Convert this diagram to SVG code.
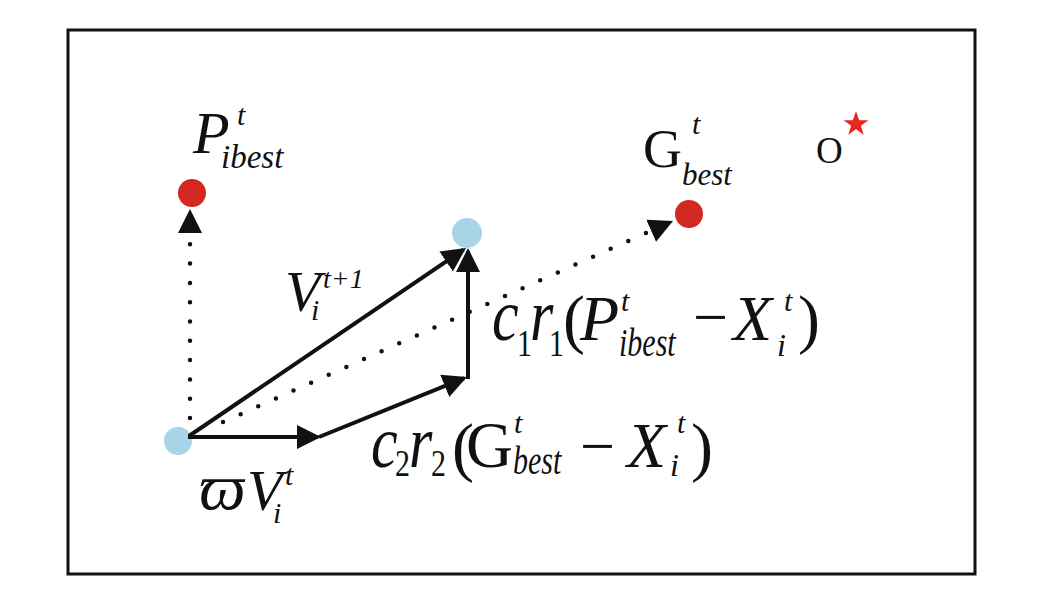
<svg xmlns="http://www.w3.org/2000/svg" width="1054" height="596" viewBox="0 0 1054 596">
<style>
text{font-family:"Liberation Serif","Times New Roman",serif;fill:#111}
.it{font-style:italic}
.up{font-style:normal}
.sol{stroke:#111;stroke-width:4;fill:none}
.dot{stroke:#111;stroke-width:4.5;fill:none;stroke-linecap:round;stroke-dasharray:0 19.3}
.red{fill:#d22a22}
.blue{fill:#a9d4e7}
</style>
<defs>
<marker id="ah" markerUnits="userSpaceOnUse" markerWidth="24" markerHeight="26" viewBox="0 0 24 26" refX="21" refY="13" orient="auto">
<path d="M0,1 L24,13 L0,25 z" fill="#111"/>
</marker>
</defs>
<rect x="68" y="30" width="907" height="544" fill="#fff" stroke="#111" stroke-width="3"/>

<g id="particle-now"><circle class="blue" cx="178" cy="441" r="14"/></g>
<g id="particle-next"><circle class="blue" cx="467" cy="233" r="15"/></g>
<g id="pbest"><circle class="red" cx="192" cy="193" r="14"/></g>
<g id="gbest"><circle class="red" cx="689" cy="214" r="14"/></g>
<g id="optimum">
<text x="816" y="163" font-size="37">O</text>
<polygon fill="#e8281e" points="856,111 859.1,120.2 868.4,120.2 860.9,125.8 863.7,134.8 856,129.3 848.3,134.8 851.1,125.8 843.6,120.2 852.9,120.2"/>
</g>

<g id="connectors">
<path class="dot" d="M190,418 L190,212" marker-end="url(#ah)"/>
<path class="dot" d="M223,422 L670.3,222.2" marker-end="url(#ah)"/>
<path class="sol" d="M188,437 L318,437" marker-end="url(#ah)"/>
<path class="sol" d="M319,437 L464.2,378.1" marker-end="url(#ah)"/>
<path class="sol" d="M468,379 L468,251" marker-end="url(#ah)"/>
<path class="sol" d="M189,436 L463.5,249.7" marker-end="url(#ah)"/>
</g>

<g id="label-pbest">
<text class="it"><tspan x="193" y="153" font-size="60">P</tspan><tspan x="237" y="125" font-size="30">t</tspan><tspan x="221" y="168" font-size="33">ibest</tspan></text>
</g>

<g id="label-gbest">
<text><tspan x="643" y="167" font-size="54">G</tspan><tspan class="it" x="692" y="134" font-size="30">t</tspan><tspan class="it" x="682" y="185" font-size="31">best</tspan></text>
</g>

<g id="label-v-next">
<text class="it"><tspan x="285" y="311" font-size="58">V</tspan><tspan x="323" y="288" font-size="28">t+1</tspan><tspan x="311" y="320" font-size="30">i</tspan></text>
</g>

<g id="label-inertia">
<text class="it"><tspan x="199" y="509" font-size="66">ϖ</tspan><tspan x="247" y="510" font-size="58">V</tspan><tspan x="285" y="485" font-size="30">t</tspan><tspan x="273" y="523" font-size="30">i</tspan></text>
</g>

<g id="label-cognitive">
<text class="it" font-size="60" transform="translate(492 340) scale(1 1.22)">c</text>
<text font-size="30" transform="translate(517 356) scale(1 1.25)">1</text>
<text class="it" font-size="60" transform="translate(530 340) scale(1 1.22)">r</text>
<text font-size="30" transform="translate(549 356) scale(1 1.25)">1</text>
<text font-size="66"><tspan x="563" y="341">(</tspan><tspan class="it" x="580" y="340" font-size="64">P</tspan><tspan class="it" x="621" y="311" font-size="30">t</tspan></text>
<text class="it" font-size="30" transform="translate(619 356) scale(1 1.3)">ibest</text>
<text font-size="64"><tspan x="693" y="338" font-size="62">−</tspan><tspan class="it" x="733" y="340">X</tspan><tspan class="it" x="784" y="311" font-size="30">t</tspan><tspan class="it" x="777" y="356" font-size="32">i</tspan><tspan x="798" y="341" font-size="66">)</tspan></text>
</g>

<g id="label-social">
<text class="it" font-size="60" transform="translate(371 467) scale(1 1.22)">c</text>
<text font-size="30" transform="translate(395 476) scale(1 1.25)">2</text>
<text class="it" font-size="60" transform="translate(409 467) scale(1 1.22)">r</text>
<text font-size="30" transform="translate(431 476) scale(1 1.25)">2</text>
<text font-size="66"><tspan x="452" y="469">(</tspan><tspan x="466" y="467" font-size="65">G</tspan><tspan class="it" x="514" y="433" font-size="30">t</tspan></text>
<text class="it" font-size="30" transform="translate(513 474) scale(1 1.3)">best</text>
<text font-size="64"><tspan x="580" y="467" font-size="62">−</tspan><tspan class="it" x="627" y="467">X</tspan><tspan class="it" x="677" y="433" font-size="30">t</tspan><tspan class="it" x="670" y="476" font-size="32">i</tspan><tspan x="691" y="469" font-size="66">)</tspan></text>
</g>
</svg>
